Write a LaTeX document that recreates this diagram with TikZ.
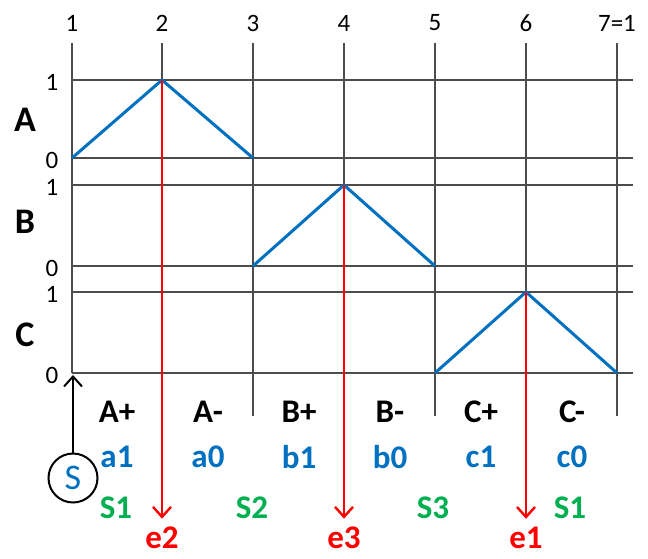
\documentclass[tikz,border=0pt]{standalone}
\usepackage{fontspec}
\setmainfont{Carlito}
\usetikzlibrary{arrows.meta}
\definecolor{sigblue}{RGB}{0,112,192}
\definecolor{siggreen}{RGB}{0,176,80}
\definecolor{sigred}{RGB}{255,0,0}

\begin{document}
\begin{tikzpicture}[x=0.5pt,y=-0.5pt,>={Straight Barb[length=5pt,width=9pt]},
    grid/.style={draw=black!70, line width=1pt},
    wave/.style={draw=sigblue, line width=1.5pt, line join=round},
    event/.style={draw=sigred, line width=1.2pt, ->, shorten >=4pt},
    num/.style={font=\fontsize{12.5}{14}\selectfont, inner sep=0pt},
    rowlab/.style={font=\fontsize{18}{20}\selectfont\bfseries, inner sep=0pt},
    steplab/.style={font=\fontsize{16.5}{18}\selectfont\bfseries, inner sep=0pt}]

\useasboundingbox (0,0) rectangle (648,558);

% time axis
\foreach \i/\x/\t in {1/72/1,2/162/2,3/253/3,4/344/4,5/435/5,6/526/6,7/617/{7=1}}
  \node[num] (t\i) at (\x,23) {\t};
\draw[grid] (72,43) -- (72,373);
\foreach \x in {162,253,344,435,526,617}
  \draw[grid] (\x,43) -- (\x,416);

% signal rows
\foreach \r/\hi/\lo/\my in {A/80/158/120, B/185/266/222, C/292/373/335} {
  \draw[grid] (72,\hi) -- (633,\hi);
  \draw[grid] (72,\lo) -- (633,\lo);
  \node[num] (\r-hi) at (52,\hi+2) {1};
  \node[num] (\r-lo) at (52,\lo+2) {0};
  \node[rowlab] (\r) at (25,\my) {\r};
}

\coordinate (pA) at (162,80);
\coordinate (pB) at (344,185);
\coordinate (pC) at (526,292);
\draw[wave] (72,158) -- (pA) -- (253,158);
\draw[wave] (253,266) -- (pB) -- (435,266);
\draw[wave] (435,373) -- (pC) -- (617,373);

% steps and signals
\foreach \s/\v/\x in {A+/a1/117, A-/a0/208, B+/b1/299, B-/b0/390, C+/c1/481, C-/c0/572} {
  \node[steplab] (st\s) at (\x,412) {\s};
  \node[steplab, text=sigblue] (sg\v) at (\x,457) {\v};
}
\foreach \n/\s/\x in {1/S1/116, 2/S2/252, 3/S3/433, 4/S1/570}
  \node[steplab, text=siggreen] (sw\n) at (\x,508) {\s};

% events
\node[steplab, text=sigred] (e2) at (162,538) {e2};
\node[steplab, text=sigred] (e3) at (344,538) {e3};
\node[steplab, text=sigred] (e1) at (526,538) {e1};
\draw[event] (pA) -- (e2.north);
\draw[event] (pB) -- (e3.north);
\draw[event] (pC) -- (e1.north);

% start
\node[circle, draw, line width=1pt, minimum size=24.5pt, inner sep=0pt, text=sigblue,
  font=\fontsize{18}{20}\selectfont] (S) at (73,478) {S};
\coordinate (start) at (73,375);
\draw[->, line width=1pt] (S) -- (start);

\end{tikzpicture}
\end{document}
